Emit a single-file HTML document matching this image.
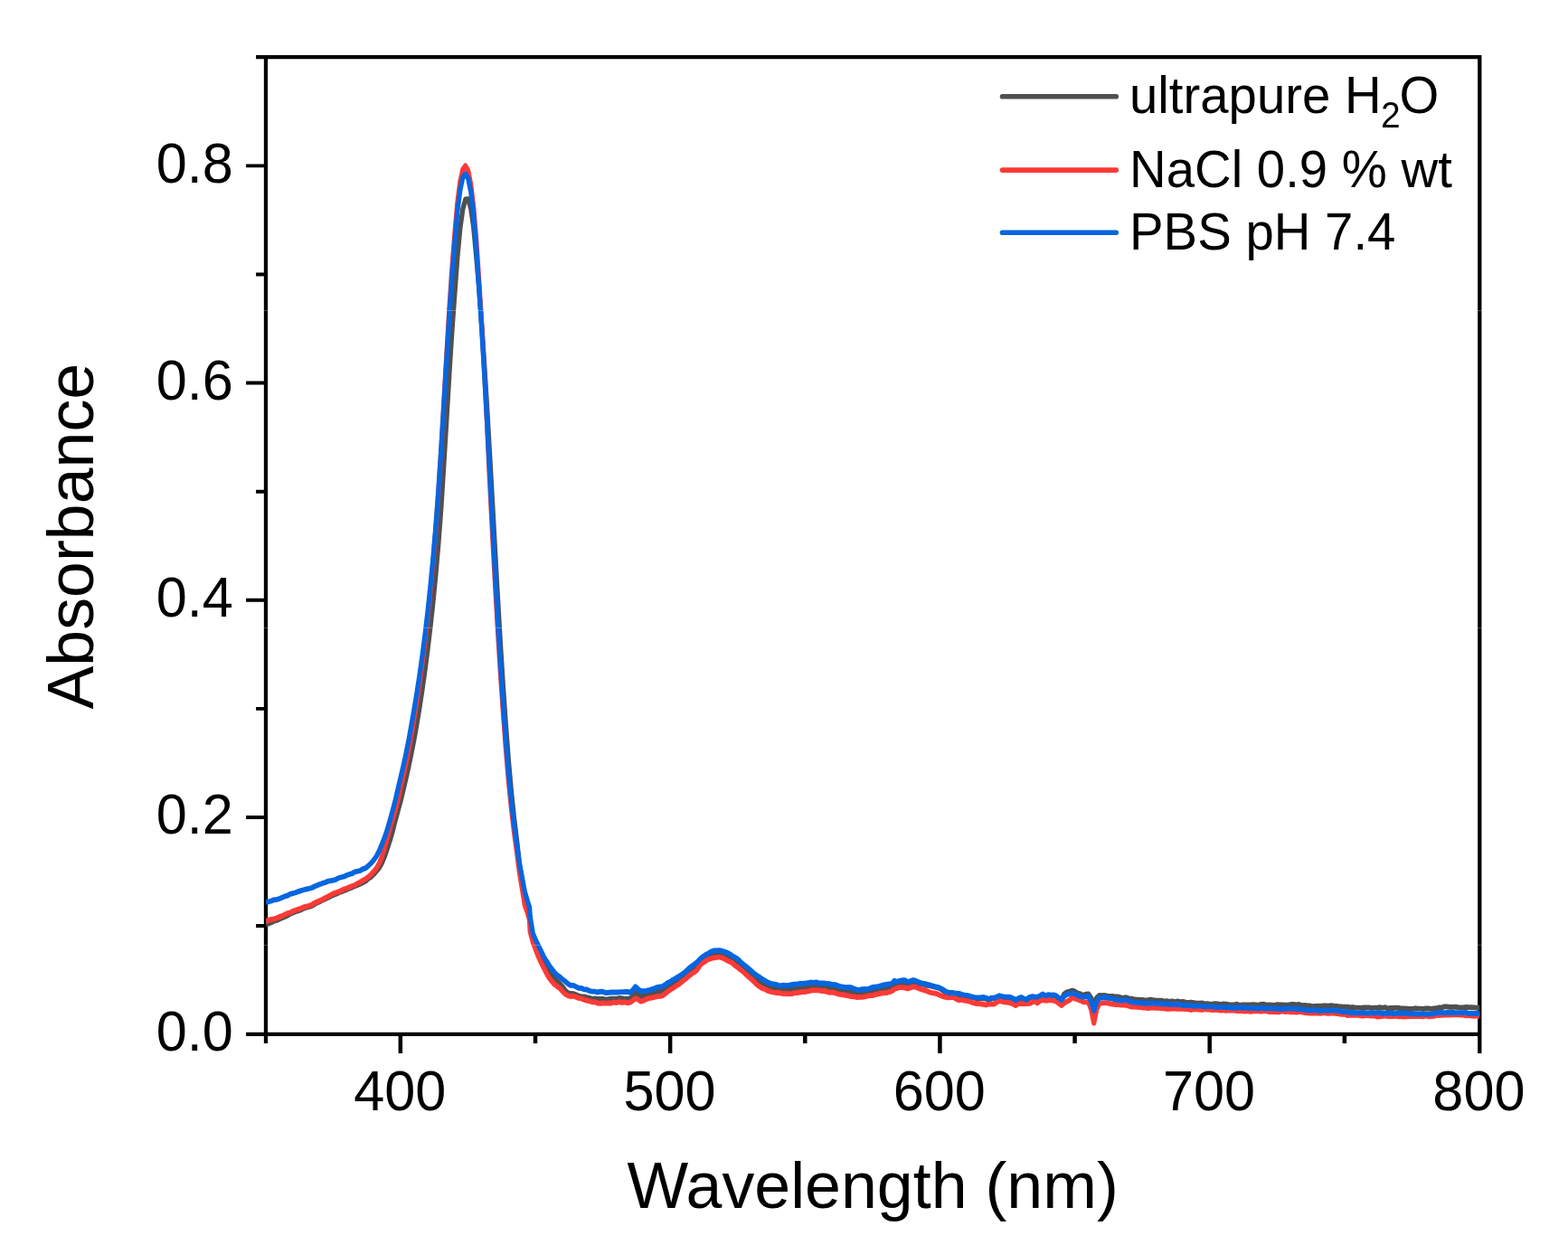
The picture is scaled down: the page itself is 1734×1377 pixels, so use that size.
<!DOCTYPE html>
<html lang="en"><head><meta charset="utf-8"><title>Absorbance vs Wavelength</title>
<style>html,body{margin:0;padding:0;background:#fff;}body{width:1734px;height:1377px;overflow:hidden;}svg{display:block;}text{font-family:"Liberation Sans", sans-serif;fill:#000;}</style>
</head><body>
<svg width="1734" height="1377" viewBox="0 0 1734 1377">
<rect x="0" y="0" width="1734" height="1377" fill="#ffffff"/>
<g stroke="#000" stroke-width="4.3" fill="none" stroke-linecap="butt">
<path d="M283.1,63.05 H1638.45 M272.1,1143.9 H1638.45 M294.0,63.05 V1153.9 M1636.3,63.05 V1165.0"/>
<path stroke-width="4.5" d="M442.84,1143.9 v21.1 M591.99,1143.9 v10.0 M741.13,1143.9 v21.1 M890.28,1143.9 v10.0 M1039.42,1143.9 v21.1 M1188.57,1143.9 v10.0 M1337.71,1143.9 v21.1 M1486.86,1143.9 v10.0"/>
<path stroke-width="3.95" d="M294.0,1024.06 h-10.9 M294.0,903.96 h-21.9 M294.0,783.87 h-10.9 M294.0,663.77 h-21.9 M294.0,543.68 h-10.9 M294.0,423.58 h-21.9 M294.0,303.49 h-10.9 M294.0,183.39 h-21.9"/>
</g>
<defs><clipPath id="plot"><rect x="293.7" y="63.05" width="1343.2" height="1080.8500000000001"/></clipPath></defs>
<g clip-path="url(#plot)"><g transform="scale(0.905,1)" fill="none" stroke-linejoin="round" stroke-linecap="butt" stroke-width="5.8">
<path d="M324.9,1023.0 328.2,1021.4 331.5,1020.3 334.7,1018.7 338.0,1018.0 341.3,1016.6 344.6,1015.2 347.9,1014.0 351.2,1012.6 354.5,1010.8 357.8,1009.5 361.1,1008.3 364.4,1007.4 367.7,1006.3 371.0,1004.7 374.3,1003.7 377.6,1003.0 380.9,1001.9 384.2,1000.1 387.5,998.4 390.8,997.3 394.1,995.5 397.4,994.2 400.7,992.9 404.0,991.3 407.3,989.9 410.6,988.8 413.9,987.3 417.2,986.2 420.4,985.0 423.7,983.9 427.0,982.6 430.3,981.4 433.6,980.1 436.9,978.9 440.2,977.5 443.5,976.1 446.8,974.5 450.1,971.8 453.4,969.9 456.7,966.9 460.0,963.5 463.3,960.0 466.6,954.8 469.9,947.4 473.2,938.8 476.5,929.6 479.8,919.3 483.1,907.3 486.4,896.5 489.7,885.4 493.0,873.0 496.3,860.2 499.6,846.9 502.8,832.7 506.1,817.3 509.4,800.7 512.7,782.5 516.0,762.8 519.3,741.5 522.6,718.5 525.9,693.7 529.2,666.1 532.5,635.5 535.8,600.9 539.1,561.1 542.4,513.9 545.7,464.3 549.0,414.3 552.3,366.7 555.6,325.7 558.9,285.0 562.2,253.0 565.5,231.3 568.8,220.5 572.1,220.2 575.4,230.5 578.7,251.6 582.0,283.8 585.2,317.3 588.5,357.4 591.8,401.4 595.1,449.8 598.4,501.6 601.7,554.9 605.0,608.9 608.3,662.5 611.6,713.3 614.9,760.1 618.2,803.0 621.5,841.9 624.8,875.5 628.1,903.9 631.4,928.1 634.7,955.1 638.0,975.6 641.3,992.0 644.6,1002.9 647.1,1012.0 647.7,1022.0 647.9,1023.1 651.2,1037.2 654.5,1043.8 657.8,1051.1 661.1,1058.2 664.4,1063.6 667.6,1068.8 670.9,1073.7 674.2,1078.0 677.5,1081.4 680.8,1085.3 684.1,1088.0 687.4,1091.3 690.7,1095.6 694.0,1098.2 697.3,1099.0 700.6,1099.1 703.9,1100.2 707.2,1101.6 710.5,1102.4 713.8,1102.3 717.1,1103.2 720.4,1103.8 723.7,1105.0 727.0,1104.3 730.3,1104.8 733.6,1104.8 736.9,1104.9 740.2,1105.6 743.5,1105.1 746.8,1104.6 750.0,1104.6 753.3,1104.7 756.6,1104.0 759.9,1104.2 763.2,1104.8 766.5,1104.6 769.8,1104.4 773.1,1102.1 776.4,1098.0 779.7,1099.7 783.0,1102.1 786.3,1101.5 789.6,1100.6 792.9,1099.4 796.2,1098.8 799.5,1098.2 802.8,1097.4 806.1,1096.7 809.4,1096.3 812.7,1094.4 816.0,1091.6 819.3,1089.7 822.6,1087.9 825.9,1086.0 829.2,1084.5 832.4,1082.4 835.7,1080.2 839.0,1077.3 842.3,1074.7 845.6,1072.6 848.9,1070.4 852.2,1067.9 855.5,1063.7 858.8,1061.5 862.1,1059.8 865.4,1058.2 868.7,1056.8 872.0,1055.6 875.3,1055.5 878.6,1055.0 881.9,1055.9 885.2,1056.4 888.5,1057.8 891.8,1059.6 895.1,1061.8 898.4,1063.7 901.7,1065.9 905.0,1068.0 908.3,1070.9 911.6,1073.2 914.8,1076.3 918.1,1078.6 921.4,1081.3 924.7,1084.0 928.0,1086.0 931.3,1087.6 934.6,1089.3 937.9,1091.3 941.2,1091.9 944.5,1092.6 947.8,1093.3 951.1,1093.6 954.4,1094.0 957.7,1094.4 961.0,1094.3 964.3,1094.0 967.6,1094.4 970.9,1093.5 974.2,1093.3 977.5,1093.4 980.8,1093.0 984.1,1091.6 987.4,1091.5 990.7,1091.4 994.0,1090.8 997.2,1091.0 1000.5,1090.9 1003.8,1091.0 1007.1,1091.4 1010.4,1092.4 1013.7,1093.2 1017.0,1093.8 1020.3,1093.9 1023.6,1094.0 1026.9,1095.3 1030.2,1095.9 1033.5,1096.5 1036.8,1096.8 1040.1,1096.8 1043.4,1098.3 1046.7,1098.2 1050.0,1098.5 1053.3,1098.7 1056.6,1098.5 1059.9,1098.4 1063.2,1096.6 1066.5,1096.6 1069.8,1096.0 1073.1,1095.0 1076.4,1094.6 1079.6,1093.5 1082.9,1093.6 1086.2,1093.1 1089.5,1092.0 1092.8,1089.1 1096.1,1089.2 1099.4,1088.4 1102.7,1088.6 1106.0,1088.3 1109.3,1089.8 1112.6,1088.1 1115.9,1086.5 1119.2,1087.0 1122.5,1087.8 1125.8,1088.5 1129.1,1089.0 1132.4,1089.9 1135.7,1090.0 1139.0,1091.0 1142.3,1091.7 1145.6,1092.3 1148.9,1093.4 1152.2,1095.6 1155.5,1097.9 1158.8,1098.3 1162.0,1097.9 1165.3,1098.3 1168.6,1099.2 1171.9,1100.5 1175.2,1100.7 1178.5,1101.3 1181.8,1102.0 1185.1,1102.2 1188.4,1103.2 1191.7,1103.8 1195.0,1104.3 1198.3,1104.0 1201.6,1104.3 1204.9,1104.5 1208.2,1106.2 1211.5,1104.6 1214.8,1104.2 1218.1,1102.7 1221.4,1102.4 1224.7,1103.0 1228.0,1102.9 1231.3,1103.3 1234.6,1103.7 1237.9,1104.7 1241.2,1106.2 1244.4,1104.6 1247.7,1103.8 1251.0,1105.1 1254.3,1105.7 1257.6,1104.2 1260.9,1102.8 1264.2,1103.0 1267.5,1103.6 1270.8,1102.3 1274.1,1100.3 1277.4,1101.8 1280.7,1100.7 1284.0,1100.9 1287.3,1101.1 1290.6,1101.8 1293.9,1104.3 1297.2,1105.2 1300.5,1099.2 1303.8,1097.4 1307.1,1096.5 1310.4,1095.6 1313.7,1096.8 1317.0,1098.5 1320.3,1099.4 1323.6,1100.8 1326.8,1099.7 1330.1,1099.4 1333.4,1103.9 1336.7,1112.2 1340.0,1103.8 1343.3,1101.0 1346.6,1101.2 1349.9,1101.0 1353.2,1101.7 1356.5,1101.8 1359.8,1101.9 1363.1,1102.5 1366.4,1102.5 1369.7,1103.3 1373.0,1103.6 1376.3,1103.2 1379.6,1104.4 1382.9,1104.6 1386.2,1105.5 1389.5,1105.6 1392.8,1106.0 1396.1,1106.0 1399.4,1106.3 1402.7,1106.1 1406.0,1105.7 1409.2,1106.1 1412.5,1106.4 1415.8,1106.6 1419.1,1106.6 1422.4,1107.6 1425.7,1107.2 1429.0,1107.8 1432.3,1107.4 1435.6,1108.2 1438.9,1107.4 1442.2,1108.2 1445.5,1107.8 1448.8,1108.6 1452.1,1109.2 1455.4,1108.5 1458.7,1109.0 1462.0,1109.6 1465.3,1109.7 1468.6,1109.4 1471.9,1110.4 1475.2,1110.2 1478.5,1110.7 1481.8,1110.5 1485.1,1110.1 1488.4,1110.4 1491.6,1111.2 1494.9,1110.3 1498.2,1110.7 1501.5,1111.2 1504.8,1111.4 1508.1,1111.4 1511.4,1110.7 1514.7,1112.0 1518.0,1111.3 1521.3,1111.4 1524.6,1111.4 1527.9,1111.3 1531.2,1111.1 1534.5,1111.3 1537.8,1111.9 1541.1,1110.9 1544.4,1110.7 1547.7,1111.6 1551.0,1111.5 1554.3,1111.6 1557.6,1111.9 1560.9,1111.1 1564.2,1111.4 1567.5,1111.5 1570.8,1111.7 1574.0,1111.7 1577.3,1111.0 1580.6,1110.8 1583.9,1111.3 1587.2,1111.0 1590.5,1112.1 1593.8,1111.9 1597.1,1112.2 1600.4,1112.3 1603.7,1113.2 1607.0,1112.9 1610.3,1112.6 1613.6,1112.8 1616.9,1112.4 1620.2,1112.5 1623.5,1112.7 1626.8,1112.2 1630.1,1112.6 1633.4,1112.8 1636.7,1113.3 1640.0,1113.5 1643.3,1113.6 1646.6,1113.7 1649.9,1114.3 1653.2,1114.0 1656.4,1114.7 1659.7,1114.6 1663.0,1114.8 1666.3,1114.5 1669.6,1114.4 1672.9,1114.4 1676.2,1115.1 1679.5,1114.7 1682.8,1114.7 1686.1,1114.2 1689.4,1114.8 1692.7,1114.2 1696.0,1115.4 1699.3,1114.9 1702.6,1115.0 1705.9,1114.6 1709.2,1114.8 1712.5,1115.5 1715.8,1115.3 1719.1,1115.6 1722.4,1116.0 1725.7,1116.0 1729.0,1115.2 1732.3,1115.6 1735.6,1115.7 1738.9,1115.8 1742.1,1115.5 1745.4,1115.5 1748.7,1115.8 1752.0,1115.4 1755.3,1115.2 1758.6,1114.4 1761.9,1114.5 1765.2,1113.3 1768.5,1113.4 1771.8,1114.0 1775.1,1113.8 1778.4,1113.6 1781.7,1114.2 1785.0,1114.3 1788.3,1114.4 1791.6,1113.9 1794.9,1114.1 1798.2,1114.2 1801.5,1114.3 1804.8,1114.7 1808.1,1114.3" stroke="#505050"/>
<path d="M324.9,1018.7 328.2,1017.9 331.5,1016.9 334.7,1016.5 338.0,1015.5 341.3,1014.1 344.6,1013.1 347.9,1011.6 351.2,1010.1 354.5,1009.5 357.8,1007.7 361.1,1006.8 364.4,1005.7 367.7,1004.7 371.0,1003.4 374.3,1002.5 377.6,1001.8 380.9,1000.8 384.2,998.8 387.5,997.5 390.8,996.1 394.1,994.9 397.4,993.2 400.7,991.7 404.0,990.0 407.3,988.3 410.6,987.3 413.9,986.4 417.2,984.8 420.4,983.3 423.7,982.7 427.0,981.2 430.3,980.0 433.6,979.0 436.9,977.1 440.2,975.6 443.5,973.7 446.8,972.2 450.1,969.9 453.4,967.1 456.7,963.9 460.0,960.2 463.3,955.0 466.6,947.7 469.9,938.0 473.2,927.3 476.5,916.7 479.8,906.0 483.1,895.8 486.4,884.2 489.7,871.0 493.0,857.6 496.3,843.7 499.6,828.5 502.8,812.1 506.1,794.4 509.4,775.6 512.7,755.1 516.0,733.2 519.3,709.4 522.6,683.2 525.9,654.1 529.2,621.9 532.5,585.4 535.8,544.1 539.1,497.2 542.4,445.2 545.7,392.0 549.0,341.9 552.3,297.7 555.6,259.2 558.9,224.9 562.2,201.3 565.5,187.6 568.8,183.4 572.1,188.9 575.4,204.3 578.7,229.5 582.0,265.3 585.2,308.9 588.5,356.9 591.8,409.6 595.1,467.7 598.4,531.7 601.7,590.5 605.0,645.8 608.3,697.7 611.6,745.5 614.9,789.4 618.2,829.4 621.5,864.5 624.8,894.2 628.1,919.5 631.4,941.3 634.7,965.0 638.0,983.0 641.3,1001.2 644.6,1009.6 647.1,1018.1 647.7,1030.1 647.9,1030.9 651.2,1042.3 654.5,1050.0 657.8,1057.9 661.1,1064.4 664.4,1070.3 667.6,1076.2 670.9,1081.4 674.2,1085.3 677.5,1088.6 680.8,1090.9 684.1,1092.9 687.4,1096.4 690.7,1099.5 694.0,1101.1 697.3,1102.0 700.6,1101.7 703.9,1102.7 707.2,1104.0 710.5,1104.5 713.8,1105.7 717.1,1106.7 720.4,1107.3 723.7,1108.3 727.0,1108.2 730.3,1109.7 733.6,1109.9 736.9,1109.3 740.2,1109.6 743.5,1109.4 746.8,1109.6 750.0,1108.5 753.3,1109.1 756.6,1108.0 759.9,1108.9 763.2,1108.4 766.5,1109.1 769.8,1108.8 773.1,1106.8 776.4,1104.1 779.7,1105.4 783.0,1107.6 786.3,1106.8 789.6,1105.2 792.9,1104.0 796.2,1103.7 799.5,1102.9 802.8,1102.2 806.1,1101.8 809.4,1101.3 812.7,1099.1 816.0,1096.6 819.3,1094.5 822.6,1092.7 825.9,1090.6 829.2,1088.8 832.4,1086.6 835.7,1084.2 839.0,1081.7 842.3,1079.0 845.6,1076.8 848.9,1074.9 852.2,1072.2 855.5,1067.5 858.8,1065.0 862.1,1063.0 865.4,1061.1 868.7,1060.2 872.0,1059.3 875.3,1059.0 878.6,1058.5 881.9,1059.1 885.2,1060.5 888.5,1062.3 891.8,1063.6 895.1,1065.2 898.4,1068.1 901.7,1070.1 905.0,1072.7 908.3,1074.9 911.6,1077.8 914.8,1080.4 918.1,1082.8 921.4,1085.7 924.7,1088.8 928.0,1091.1 931.3,1093.1 934.6,1093.9 937.9,1095.7 941.2,1096.6 944.5,1097.5 947.8,1098.0 951.1,1097.8 954.4,1098.7 957.7,1099.2 961.0,1098.8 964.3,1099.3 967.6,1099.1 970.9,1098.2 974.2,1098.0 977.5,1097.7 980.8,1096.8 984.1,1097.0 987.4,1096.3 990.7,1095.7 994.0,1095.2 997.2,1095.3 1000.5,1095.4 1003.8,1096.0 1007.1,1095.9 1010.4,1096.9 1013.7,1097.8 1017.0,1097.4 1020.3,1098.2 1023.6,1099.3 1026.9,1099.8 1030.2,1100.2 1033.5,1100.9 1036.8,1101.4 1040.1,1102.1 1043.4,1102.3 1046.7,1103.0 1050.0,1102.9 1053.3,1102.9 1056.6,1102.4 1059.9,1101.6 1063.2,1101.0 1066.5,1101.1 1069.8,1099.9 1073.1,1099.4 1076.4,1098.7 1079.6,1098.3 1082.9,1098.2 1086.2,1097.2 1089.5,1096.5 1092.8,1093.9 1096.1,1093.0 1099.4,1092.1 1102.7,1092.2 1106.0,1092.6 1109.3,1093.4 1112.6,1092.4 1115.9,1091.3 1119.2,1091.7 1122.5,1093.0 1125.8,1094.3 1129.1,1095.1 1132.4,1096.0 1135.7,1097.4 1139.0,1098.1 1142.3,1098.7 1145.6,1099.4 1148.9,1101.0 1152.2,1102.1 1155.5,1102.8 1158.8,1103.4 1162.0,1103.2 1165.3,1103.1 1168.6,1105.0 1171.9,1106.2 1175.2,1105.6 1178.5,1106.7 1181.8,1106.9 1185.1,1107.8 1188.4,1109.0 1191.7,1109.8 1195.0,1110.0 1198.3,1110.3 1201.6,1110.9 1204.9,1111.5 1208.2,1110.5 1211.5,1110.7 1214.8,1110.7 1218.1,1108.5 1221.4,1106.8 1224.7,1107.8 1228.0,1108.5 1231.3,1108.7 1234.6,1109.2 1237.9,1110.5 1241.2,1112.1 1244.4,1110.0 1247.7,1109.9 1251.0,1110.2 1254.3,1110.2 1257.6,1109.9 1260.9,1108.7 1264.2,1106.9 1267.5,1109.5 1270.8,1107.0 1274.1,1105.7 1277.4,1106.6 1280.7,1106.5 1284.0,1105.8 1287.3,1106.7 1290.6,1107.5 1293.9,1109.9 1297.2,1112.1 1300.5,1109.3 1303.8,1107.6 1307.1,1106.1 1310.4,1103.0 1313.7,1104.5 1317.0,1105.5 1320.3,1106.7 1323.6,1108.2 1326.8,1108.4 1330.1,1108.8 1333.4,1116.5 1336.7,1131.6 1340.0,1116.6 1343.3,1109.7 1346.6,1109.5 1349.9,1109.0 1353.2,1109.5 1356.5,1110.1 1359.8,1110.7 1363.1,1111.2 1366.4,1111.2 1369.7,1111.5 1373.0,1111.3 1376.3,1111.8 1379.6,1112.7 1382.9,1113.6 1386.2,1113.4 1389.5,1113.8 1392.8,1114.0 1396.1,1114.5 1399.4,1114.4 1402.7,1115.2 1406.0,1114.7 1409.2,1114.5 1412.5,1114.8 1415.8,1114.8 1419.1,1115.0 1422.4,1115.3 1425.7,1115.8 1429.0,1115.9 1432.3,1115.7 1435.6,1115.3 1438.9,1115.9 1442.2,1115.6 1445.5,1115.9 1448.8,1116.2 1452.1,1116.2 1455.4,1117.0 1458.7,1116.4 1462.0,1116.4 1465.3,1116.5 1468.6,1117.0 1471.9,1116.2 1475.2,1116.7 1478.5,1116.6 1481.8,1117.0 1485.1,1116.6 1488.4,1117.2 1491.6,1117.7 1494.9,1117.2 1498.2,1117.9 1501.5,1117.4 1504.8,1117.7 1508.1,1117.4 1511.4,1118.1 1514.7,1118.2 1518.0,1118.1 1521.3,1118.5 1524.6,1118.1 1527.9,1118.9 1531.2,1118.4 1534.5,1118.1 1537.8,1118.3 1541.1,1118.5 1544.4,1118.1 1547.7,1118.2 1551.0,1119.1 1554.3,1118.8 1557.6,1119.0 1560.9,1119.4 1564.2,1119.0 1567.5,1118.5 1570.8,1119.1 1574.0,1118.6 1577.3,1119.3 1580.6,1119.2 1583.9,1119.5 1587.2,1119.1 1590.5,1119.1 1593.8,1120.0 1597.1,1120.4 1600.4,1120.5 1603.7,1120.5 1607.0,1120.6 1610.3,1120.5 1613.6,1120.9 1616.9,1120.2 1620.2,1120.6 1623.5,1120.9 1626.8,1120.7 1630.1,1120.7 1633.4,1121.0 1636.7,1121.5 1640.0,1121.9 1643.3,1121.5 1646.6,1123.0 1649.9,1122.7 1653.2,1122.8 1656.4,1122.6 1659.7,1122.9 1663.0,1123.5 1666.3,1123.5 1669.6,1122.8 1672.9,1123.3 1676.2,1123.6 1679.5,1123.5 1682.8,1124.5 1686.1,1124.3 1689.4,1123.9 1692.7,1123.5 1696.0,1124.2 1699.3,1124.0 1702.6,1124.0 1705.9,1123.7 1709.2,1124.4 1712.5,1124.1 1715.8,1124.5 1719.1,1124.4 1722.4,1124.0 1725.7,1124.2 1729.0,1123.9 1732.3,1124.2 1735.6,1123.8 1738.9,1124.4 1742.1,1123.5 1745.4,1124.3 1748.7,1124.0 1752.0,1123.9 1755.3,1123.0 1758.6,1123.0 1761.9,1122.8 1765.2,1122.4 1768.5,1122.5 1771.8,1122.5 1775.1,1122.3 1778.4,1122.3 1781.7,1122.1 1785.0,1122.7 1788.3,1122.7 1791.6,1123.4 1794.9,1122.8 1798.2,1123.7 1801.5,1123.9 1804.8,1123.2 1808.1,1124.2" stroke="#fc3a36"/>
<path d="M324.9,997.8 328.2,997.3 331.5,996.5 334.7,995.2 338.0,995.1 341.3,994.0 344.6,992.8 347.9,991.4 351.2,990.6 354.5,988.9 357.8,988.1 361.1,987.3 364.4,986.1 367.7,985.1 371.0,984.2 374.3,983.4 377.6,982.8 380.9,982.0 384.2,980.5 387.5,979.3 390.8,978.1 394.1,976.9 397.4,976.0 400.7,974.7 404.0,974.2 407.3,973.6 410.6,972.7 413.9,971.0 417.2,970.2 420.4,969.5 423.7,968.1 427.0,967.0 430.3,966.1 433.6,964.3 436.9,963.7 440.2,963.0 443.5,961.1 446.8,960.1 450.1,957.6 453.4,954.8 456.7,951.3 460.0,947.0 463.3,941.2 466.6,934.0 469.9,926.5 473.2,917.5 476.5,907.3 479.8,896.3 483.1,885.0 486.4,872.0 489.7,859.3 493.0,846.5 496.3,832.6 499.6,817.6 502.8,801.4 506.1,784.4 509.4,766.0 512.7,746.5 516.0,725.2 519.3,702.1 522.6,676.7 525.9,648.6 529.2,617.1 532.5,581.6 535.8,541.4 539.1,496.3 542.4,447.3 545.7,397.4 549.0,349.8 552.3,306.8 555.6,268.6 558.9,234.4 562.2,210.6 565.5,196.3 568.8,192.3 572.1,197.5 575.4,212.3 578.7,236.9 582.0,275.1 585.2,316.9 588.5,362.6 591.8,412.4 595.1,465.9 598.4,522.0 601.7,578.8 605.0,634.2 608.3,686.6 611.6,735.1 614.9,779.6 618.2,820.1 621.5,855.8 624.8,885.9 628.1,911.5 631.4,933.6 634.7,954.4 638.0,970.4 641.3,986.5 644.6,996.7 647.1,1003.6 647.7,1012.9 647.9,1014.3 651.2,1032.6 654.5,1039.5 657.8,1045.7 661.1,1051.7 664.4,1058.1 667.6,1062.8 670.9,1067.4 674.2,1071.7 677.5,1075.5 680.8,1078.6 684.1,1080.6 687.4,1083.2 690.7,1085.4 694.0,1088.1 697.3,1089.9 700.6,1089.8 703.9,1091.3 707.2,1092.8 710.5,1093.0 713.8,1094.4 717.1,1094.5 720.4,1096.0 723.7,1096.6 727.0,1096.7 730.3,1097.5 733.6,1096.6 736.9,1096.9 740.2,1098.1 743.5,1097.8 746.8,1097.5 750.0,1097.5 753.3,1097.5 756.6,1097.4 759.9,1097.1 763.2,1097.0 766.5,1096.8 769.8,1097.8 773.1,1095.2 776.4,1091.3 779.7,1093.9 783.0,1096.2 786.3,1096.1 789.6,1095.8 792.9,1095.2 796.2,1094.3 799.5,1093.4 802.8,1092.0 806.1,1091.4 809.4,1091.1 812.7,1089.2 816.0,1087.0 819.3,1085.7 822.6,1083.5 825.9,1081.9 829.2,1080.2 832.4,1078.2 835.7,1076.2 839.0,1073.6 842.3,1070.7 845.6,1068.4 848.9,1066.3 852.2,1063.9 855.5,1060.5 858.8,1058.0 862.1,1056.2 865.4,1054.5 868.7,1052.7 872.0,1051.5 875.3,1051.3 878.6,1051.2 881.9,1051.7 885.2,1052.5 888.5,1053.8 891.8,1055.1 895.1,1057.4 898.4,1059.0 901.7,1061.0 905.0,1063.9 908.3,1066.6 911.6,1068.8 914.8,1071.4 918.1,1073.9 921.4,1076.6 924.7,1078.9 928.0,1080.7 931.3,1082.9 934.6,1084.6 937.9,1086.4 941.2,1087.6 944.5,1088.5 947.8,1088.7 951.1,1089.8 954.4,1090.1 957.7,1089.7 961.0,1090.2 964.3,1089.7 967.6,1089.0 970.9,1088.7 974.2,1088.5 977.5,1087.7 980.8,1087.8 984.1,1087.5 987.4,1087.0 990.7,1086.5 994.0,1086.9 997.2,1086.4 1000.5,1087.3 1003.8,1087.4 1007.1,1087.5 1010.4,1087.8 1013.7,1088.1 1017.0,1089.1 1020.3,1089.0 1023.6,1090.1 1026.9,1091.0 1030.2,1091.6 1033.5,1092.2 1036.8,1091.9 1040.1,1092.2 1043.4,1093.5 1046.7,1094.6 1050.0,1094.9 1053.3,1094.2 1056.6,1093.9 1059.9,1094.2 1063.2,1093.1 1066.5,1091.8 1069.8,1091.5 1073.1,1091.1 1076.4,1090.2 1079.6,1089.4 1082.9,1088.9 1086.2,1088.4 1089.5,1088.2 1092.8,1084.8 1096.1,1085.9 1099.4,1084.9 1102.7,1084.2 1106.0,1084.2 1109.3,1086.3 1112.6,1085.1 1115.9,1084.0 1119.2,1084.9 1122.5,1086.4 1125.8,1087.3 1129.1,1087.8 1132.4,1088.6 1135.7,1089.4 1139.0,1090.2 1142.3,1091.1 1145.6,1091.8 1148.9,1092.8 1152.2,1094.3 1155.5,1096.6 1158.8,1097.8 1162.0,1097.8 1165.3,1098.3 1168.6,1098.6 1171.9,1098.9 1175.2,1099.8 1178.5,1100.6 1181.8,1100.9 1185.1,1101.7 1188.4,1102.5 1191.7,1103.3 1195.0,1103.4 1198.3,1103.3 1201.6,1102.9 1204.9,1103.7 1208.2,1105.2 1211.5,1103.6 1214.8,1103.7 1218.1,1102.7 1221.4,1101.2 1224.7,1102.2 1228.0,1102.6 1231.3,1102.6 1234.6,1103.0 1237.9,1104.3 1241.2,1106.2 1244.4,1104.3 1247.7,1102.9 1251.0,1104.4 1254.3,1105.8 1257.6,1103.1 1260.9,1102.2 1264.2,1102.5 1267.5,1102.7 1270.8,1101.3 1274.1,1099.5 1277.4,1101.2 1280.7,1100.2 1284.0,1100.6 1287.3,1100.3 1290.6,1101.2 1293.9,1103.9 1297.2,1106.1 1300.5,1101.8 1303.8,1099.9 1307.1,1099.1 1310.4,1098.2 1313.7,1099.2 1317.0,1101.1 1320.3,1102.1 1323.6,1102.7 1326.8,1102.3 1330.1,1101.8 1333.4,1108.2 1336.7,1117.9 1340.0,1108.2 1343.3,1103.3 1346.6,1103.7 1349.9,1103.0 1353.2,1103.9 1356.5,1104.0 1359.8,1104.8 1363.1,1105.7 1366.4,1106.1 1369.7,1106.3 1373.0,1106.4 1376.3,1105.9 1379.6,1107.2 1382.9,1108.4 1386.2,1108.5 1389.5,1108.9 1392.8,1109.1 1396.1,1109.4 1399.4,1110.0 1402.7,1109.7 1406.0,1109.7 1409.2,1109.2 1412.5,1110.0 1415.8,1110.2 1419.1,1110.1 1422.4,1110.6 1425.7,1110.3 1429.0,1110.6 1432.3,1111.1 1435.6,1110.7 1438.9,1111.0 1442.2,1110.9 1445.5,1112.3 1448.8,1111.6 1452.1,1112.3 1455.4,1111.8 1458.7,1112.9 1462.0,1112.6 1465.3,1112.2 1468.6,1112.9 1471.9,1113.3 1475.2,1112.9 1478.5,1113.2 1481.8,1113.4 1485.1,1113.8 1488.4,1114.1 1491.6,1113.5 1494.9,1114.0 1498.2,1114.3 1501.5,1113.8 1504.8,1114.7 1508.1,1114.6 1511.4,1114.8 1514.7,1114.1 1518.0,1114.5 1521.3,1114.4 1524.6,1115.2 1527.9,1114.6 1531.2,1114.9 1534.5,1115.2 1537.8,1115.5 1541.1,1114.6 1544.4,1114.9 1547.7,1115.7 1551.0,1115.2 1554.3,1115.2 1557.6,1115.7 1560.9,1115.5 1564.2,1115.8 1567.5,1115.5 1570.8,1115.9 1574.0,1115.2 1577.3,1115.5 1580.6,1115.7 1583.9,1115.8 1587.2,1115.6 1590.5,1116.3 1593.8,1116.6 1597.1,1117.1 1600.4,1117.5 1603.7,1117.2 1607.0,1116.8 1610.3,1118.0 1613.6,1117.9 1616.9,1117.5 1620.2,1117.7 1623.5,1117.9 1626.8,1117.2 1630.1,1117.3 1633.4,1118.0 1636.7,1117.8 1640.0,1118.9 1643.3,1119.1 1646.6,1119.0 1649.9,1120.4 1653.2,1119.7 1656.4,1120.4 1659.7,1120.4 1663.0,1120.3 1666.3,1120.0 1669.6,1120.4 1672.9,1120.5 1676.2,1120.0 1679.5,1120.7 1682.8,1120.1 1686.1,1120.0 1689.4,1121.3 1692.7,1120.5 1696.0,1121.1 1699.3,1120.1 1702.6,1121.1 1705.9,1120.9 1709.2,1120.4 1712.5,1120.5 1715.8,1120.9 1719.1,1120.7 1722.4,1121.3 1725.7,1121.3 1729.0,1121.2 1732.3,1121.5 1735.6,1121.6 1738.9,1121.1 1742.1,1121.7 1745.4,1121.6 1748.7,1121.4 1752.0,1121.0 1755.3,1120.6 1758.6,1119.7 1761.9,1119.9 1765.2,1120.6 1768.5,1119.6 1771.8,1120.2 1775.1,1119.8 1778.4,1120.2 1781.7,1120.1 1785.0,1120.2 1788.3,1120.1 1791.6,1119.9 1794.9,1121.0 1798.2,1120.7 1801.5,1120.9 1804.8,1120.7 1808.1,1121.1" stroke="#0566e0"/>
</g></g>
<g font-size="61.2">
<text transform="translate(442.2,1227.6) scale(1,1.04)" text-anchor="middle">400</text>
<text transform="translate(740.5,1227.6) scale(1,1.04)" text-anchor="middle">500</text>
<text transform="translate(1038.8,1227.6) scale(1,1.04)" text-anchor="middle">600</text>
<text transform="translate(1337.1,1227.6) scale(1,1.04)" text-anchor="middle">700</text>
<text transform="translate(1635.4,1227.6) scale(1,1.04)" text-anchor="middle">800</text>
<text transform="translate(257.8,1161.5) scale(1,1.04)" text-anchor="end">0.0</text>
<text transform="translate(257.8,921.6) scale(1,1.04)" text-anchor="end">0.2</text>
<text transform="translate(257.8,681.7) scale(1,1.04)" text-anchor="end">0.4</text>
<text transform="translate(257.8,441.8) scale(1,1.04)" text-anchor="end">0.6</text>
<text transform="translate(257.8,201.9) scale(1,1.04)" text-anchor="end">0.8</text>
</g>
<text x="965.2" y="1336" font-size="71.7" text-anchor="middle">Wavelength (nm)</text>
<text transform="translate(103,593.2) rotate(-90)" font-size="71.7" text-anchor="middle">Absorbance</text>
<g stroke-width="5.6" stroke-linecap="round" fill="none">
<path d="M1108.5,106.7 H1234.3" stroke="#505050"/>
<path d="M1108.5,188.1 H1234.3" stroke="#fc3a36"/>
<path d="M1108.5,257.3 H1234.3" stroke="#0566e0"/>
</g>
<g font-size="56.35">
<text transform="translate(1249.0,125.3) scale(1,1.025)">ultrapure H<tspan font-size="39" dy="15.3" dx="-0.6">2</tspan><tspan dy="-15.3" dx="-1.2">O</tspan></text>
<text transform="translate(1249.0,207.2) scale(1,1.025)">NaCl 0.9 % wt</text>
<text transform="translate(1249.0,276.3) scale(1,1.025)">PBS pH 7.4</text>
</g>
<path d="M0,343.5 H1734 M0,694.4 H1734 M0,1045.3 H1734" stroke="#ffffff" stroke-opacity="0.4" stroke-width="0.7" fill="none"/>
</svg>
</body></html>
